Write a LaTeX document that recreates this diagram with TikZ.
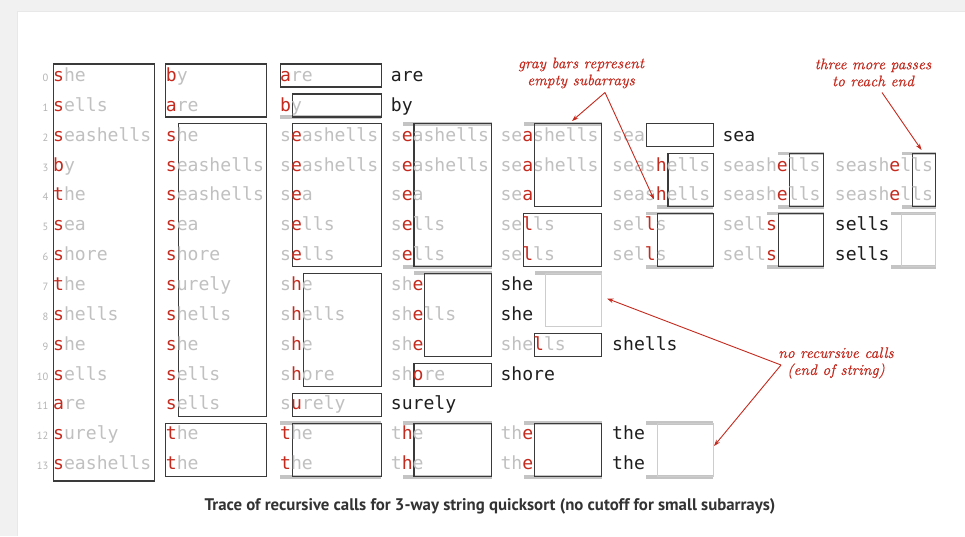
\documentclass[tikz,border=0pt]{standalone}
\usepackage{fontspec}
\usetikzlibrary{arrows.meta}
\newfontfamily\qmono{DejaVu Sans Mono}
\newfontfamily\qsans{PT Sans}
\newfontfamily\qnote{lmroman10-italic}[Extension=.otf, FakeBold=0.35]
\definecolor{txtgray}{HTML}{C0C0C0}
\definecolor{txtblack}{HTML}{1E1E1E}
\definecolor{hired}{HTML}{C42A1E}
\definecolor{bargray}{HTML}{C4C4C4}
\definecolor{boxline}{HTML}{3A3A3A}
\definecolor{lightline}{HTML}{CDCDCD}
\definecolor{pagebg}{HTML}{F1F1F1}
\definecolor{idxgray}{HTML}{B4B4B4}
\definecolor{capgray}{HTML}{333333}

\def\qcolx{{53.2,165.9,280.2,390.9,500.5,612.2,722.5,834.9}}
\def\qcw{10.9}

\tikzset{
  wordtxt/.style={anchor=base west, inner sep=0pt, outer sep=0pt, font=\qmono\fontsize{18.1}{20}\selectfont},
  boxstyle/.style={draw=boxline, line width=1.1pt},
  lightstyle/.style={draw=lightline, line width=1.1pt},
  idxtxt/.style={anchor=base east, inner sep=0pt, text=idxgray, font=\qsans\fontsize{10.5}{12}\selectfont},
  notetxt/.style={align=center, inner sep=0pt, text=hired, font=\qnote\fontsize{15.3}{17}\selectfont},
  notearrow/.style={draw=hired, line width=0.9pt, -{Stealth[length=6.5pt,width=4.5pt]}},
  captxt/.style={inner sep=0pt, text=capgray, font=\qsans\bfseries\fontsize{16.8}{19}\selectfont},
}

\newcommand{\qGeom}[4]{%
  \pgfmathsetmacro\qxL{\qcolx[#1]+#2*\qcw+ifthenelse(#2>0,1.3,0)}%
  \pgfmathsetmacro\qxR{\qcolx[#1]+101}%
  \pgfmathsetmacro\qyT{64+29.95*#3}%
  \pgfmathsetmacro\qyB{87+29.95*#4}%
}
\newcommand{\qBox}[4]{\qGeom{#1}{#2}{#3}{#4}\draw[boxstyle] (\qxL,\qyT) rectangle (\qxR,\qyB);}
\newcommand{\qLBox}[4]{\qGeom{#1}{#2}{#3}{#4}\draw[lightstyle] (\qxL,\qyT) rectangle (\qxR,\qyB);}
\newcommand{\qBarT}[3]{\qGeom{#1}{#2}{#3}{#3}\fill[bargray] (\qxL,\qyT-2.2) rectangle (\qxR,\qyT+1.6);}
\newcommand{\qBarB}[3]{\qGeom{#1}{#2}{#3}{#3}\fill[bargray] (\qxL,\qyB-1.6) rectangle (\qxR,\qyB+2.2);}
\newcommand{\qW}[5]{%
  \pgfmathsetmacro\qxW{\qcolx[#1]}%
  \pgfmathsetmacro\qyW{81.5+29.85*#2}%
  \node[wordtxt] (w#1-#2) at (\qxW,\qyW) {\textcolor{txtgray}{#3}\textcolor{hired}{#4}\textcolor{txtgray}{#5}};}
\newcommand{\qBW}[3]{%
  \pgfmathsetmacro\qxW{\qcolx[#1]}%
  \pgfmathsetmacro\qyW{81.5+29.85*#2}%
  \node[wordtxt, text=txtblack] (w#1-#2) at (\qxW,\qyW) {#3};}
\newcommand{\qIdx}[1]{%
  \pgfmathsetmacro\qyW{81.5+29.85*#1}%
  \node[idxtxt] (i#1) at (48.5,\qyW) {#1};}

\begin{document}
\begin{tikzpicture}[x=1pt,y=-1pt]
\useasboundingbox (0,0) rectangle (965,536);
\fill[pagebg] (0,0) rectangle (965,536);
\fill[black!9] (16.5,10.5) rectangle (965,536);
\fill[white] (18,12) rectangle (965,536);

% ---------- gray bars (empty subarrays)
\qBarB{2}{0}{1}
\qBarT{2}{0}{12} \qBarB{2}{0}{13}
\qBarT{3}{1}{2} \qBarB{3}{1}{6}
\qBarT{3}{2}{7}
\qBarT{3}{1}{12} \qBarB{3}{1}{13}
\qBarT{4}{2}{2}
\qBarT{4}{3}{7}
\qBarT{4}{2}{12} \qBarB{4}{2}{13}
\qBarB{5}{4}{4}
\qBarT{5}{3}{5} \qBarB{5}{3}{6}
\qBarT{5}{3}{12} \qBarB{5}{3}{13}
\qBarT{6}{5}{3} \qBarB{6}{5}{4}
\qBarT{6}{4}{5} \qBarB{6}{4}{6}
\qBarT{7}{6}{3} \qBarB{7}{6}{4}
\qBarT{7}{5}{5} \qBarB{7}{5}{6}

% ---------- subarray boxes
\draw[boxstyle] (53.2,64) rectangle (154.2,481);
\qBox{1}{0}{0}{1} \qBox{1}{1}{2}{11} \qBox{1}{0}{12}{13}
\qBox{2}{0}{0}{0} \qBox{2}{1}{1}{1} \qBox{2}{1}{2}{6} \qBox{2}{2}{7}{10}
\qBox{2}{1}{11}{11} \qBox{2}{1}{12}{13}
\qBox{3}{2}{2}{6} \qBox{3}{3}{7}{9} \qBox{3}{2}{10}{10} \qBox{3}{2}{12}{13}
\qBox{4}{3}{2}{4} \qBox{4}{2}{5}{6} \qBox{4}{3}{9}{9} \qBox{4}{3}{12}{13}
\qLBox{4}{4}{7}{8}
\qBox{5}{3}{2}{2} \qBox{5}{5}{3}{4} \qBox{5}{4}{5}{6}
\qLBox{5}{4}{12}{13}
\qBox{6}{6}{3}{4} \qBox{6}{5}{5}{6}
\qBox{7}{7}{3}{4}
\qLBox{7}{6}{5}{6}

% ---------- index numbers
\foreach \i in {0,...,13} {\qIdx{\i}}

% ---------- column 0
\qW{0}{0}{}{s}{he}
\qW{0}{1}{}{s}{ells}
\qW{0}{2}{}{s}{eashells}
\qW{0}{3}{}{b}{y}
\qW{0}{4}{}{t}{he}
\qW{0}{5}{}{s}{ea}
\qW{0}{6}{}{s}{hore}
\qW{0}{7}{}{t}{he}
\qW{0}{8}{}{s}{hells}
\qW{0}{9}{}{s}{he}
\qW{0}{10}{}{s}{ells}
\qW{0}{11}{}{a}{re}
\qW{0}{12}{}{s}{urely}
\qW{0}{13}{}{s}{eashells}
% ---------- column 1
\qW{1}{0}{}{b}{y}
\qW{1}{1}{}{a}{re}
\qW{1}{2}{}{s}{he}
\qW{1}{3}{}{s}{eashells}
\qW{1}{4}{}{s}{eashells}
\qW{1}{5}{}{s}{ea}
\qW{1}{6}{}{s}{hore}
\qW{1}{7}{}{s}{urely}
\qW{1}{8}{}{s}{hells}
\qW{1}{9}{}{s}{he}
\qW{1}{10}{}{s}{ells}
\qW{1}{11}{}{s}{ells}
\qW{1}{12}{}{t}{he}
\qW{1}{13}{}{t}{he}
% ---------- column 2
\qW{2}{0}{}{a}{re}
\qW{2}{1}{}{b}{y}
\qW{2}{2}{s}{e}{ashells}
\qW{2}{3}{s}{e}{ashells}
\qW{2}{4}{s}{e}{a}
\qW{2}{5}{s}{e}{lls}
\qW{2}{6}{s}{e}{lls}
\qW{2}{7}{s}{h}{e}
\qW{2}{8}{s}{h}{ells}
\qW{2}{9}{s}{h}{e}
\qW{2}{10}{s}{h}{ore}
\qW{2}{11}{s}{u}{rely}
\qW{2}{12}{}{t}{he}
\qW{2}{13}{}{t}{he}
% ---------- column 3
\qBW{3}{0}{are}
\qBW{3}{1}{by}
\qW{3}{2}{s}{e}{ashells}
\qW{3}{3}{s}{e}{ashells}
\qW{3}{4}{s}{e}{a}
\qW{3}{5}{s}{e}{lls}
\qW{3}{6}{s}{e}{lls}
\qW{3}{7}{sh}{e}{}
\qW{3}{8}{sh}{e}{lls}
\qW{3}{9}{sh}{e}{}
\qW{3}{10}{sh}{o}{re}
\qBW{3}{11}{surely}
\qW{3}{12}{t}{h}{e}
\qW{3}{13}{t}{h}{e}
% ---------- column 4
\qW{4}{2}{se}{a}{shells}
\qW{4}{3}{se}{a}{shells}
\qW{4}{4}{se}{a}{}
\qW{4}{5}{se}{l}{ls}
\qW{4}{6}{se}{l}{ls}
\qBW{4}{7}{she}
\qBW{4}{8}{she}
\qW{4}{9}{she}{l}{ls}
\qBW{4}{10}{shore}
\qW{4}{12}{th}{e}{}
\qW{4}{13}{th}{e}{}
% ---------- column 5
\qW{5}{2}{sea}{}{}
\qW{5}{3}{seas}{h}{ells}
\qW{5}{4}{seas}{h}{ells}
\qW{5}{5}{sel}{l}{s}
\qW{5}{6}{sel}{l}{s}
\qBW{5}{9}{shells}
\qBW{5}{12}{the}
\qBW{5}{13}{the}
% ---------- column 6
\qBW{6}{2}{sea}
\qW{6}{3}{seash}{e}{lls}
\qW{6}{4}{seash}{e}{lls}
\qW{6}{5}{sell}{s}{}
\qW{6}{6}{sell}{s}{}
% ---------- column 7
\qW{7}{3}{seash}{e}{lls}
\qW{7}{4}{seash}{e}{lls}
\qBW{7}{5}{sells}
\qBW{7}{6}{sells}

% ---------- annotations
\node[notetxt] (n1) at (581,73) {gray bars represent\\empty subarrays};
\coordinate (v1) at (605,92.5);
\coordinate (a1) at (572,121);
\coordinate (a2) at (654,199.5);
\draw[notearrow] (v1) -- (a1);
\draw[notearrow] (v1) -- (a2);

\node[notetxt] (n2) at (873,72.5) {three more passes\\to reach end};
\coordinate (v2) at (882,92.5);
\coordinate (a3) at (921.5,150);
\draw[notearrow] (v2) -- (a3);

\node[notetxt] (n3) at (836,363) {no recursive calls\\(end of string)};
\coordinate (v3) at (781,365);
\coordinate (a4) at (714,446);
\coordinate (a5) at (607,298.5);
\draw[notearrow] (v3) -- (a4);
\draw[notearrow] (v3) -- (a5);

% ---------- caption
\node[captxt] (cap) at (490,506) {Trace of recursive calls for 3-way string quicksort (no cutoff for small subarrays)};
\end{tikzpicture}
\end{document}
